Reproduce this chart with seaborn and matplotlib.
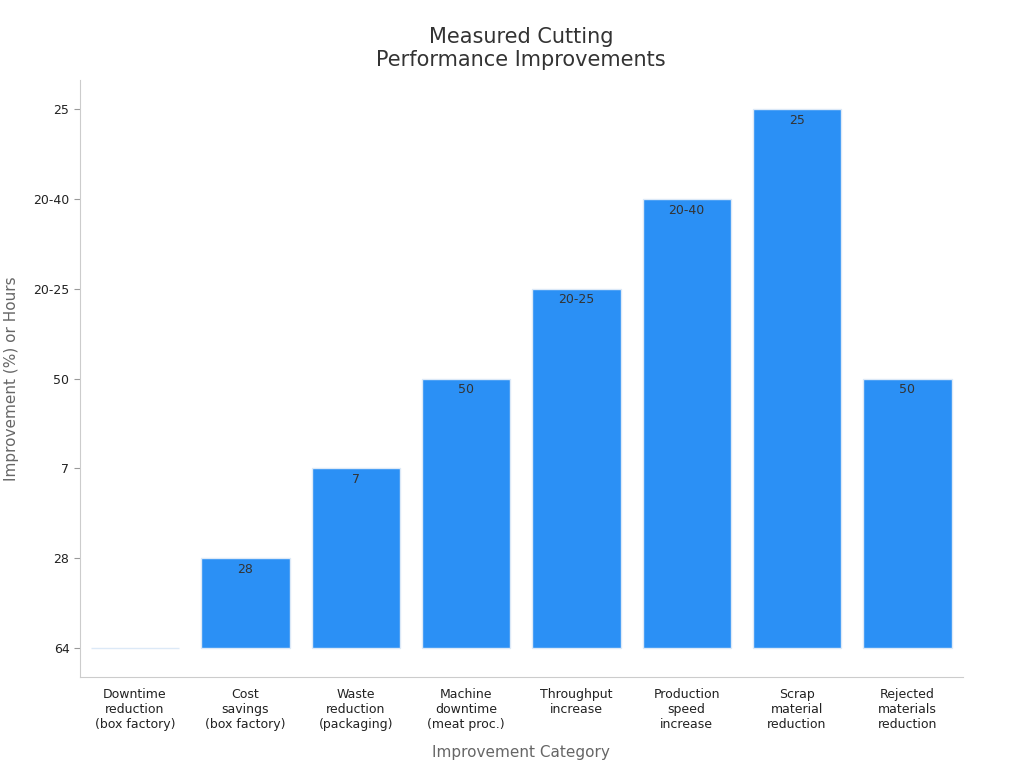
import seaborn as sns
import pandas as pd
from matplotlib import pyplot as plt

categories = ["Downtime\nreduction\n(box factory)", "Cost\nsavings\n(box factory)",
              "Waste\nreduction\n(packaging)", "Machine\ndowntime\n(meat proc.)",
              "Throughput\nincrease", "Production\nspeed\nincrease",
              "Scrap\nmaterial\nreduction", "Rejected\nmaterials\nreduction"]
values = ["64", "28", "7", "50", "20-25", "20-40", "25", "50"]

# y axis is categorical: levels in order of first appearance
levels = list(dict.fromkeys(values))
df = pd.DataFrame({"cat": categories, "val": values,
                   "pos": [levels.index(v) for v in values]})

fig, ax = plt.subplots(figsize=(10.24, 7.68), dpi=100)
fig.subplots_adjust(left=0.078, right=0.94, top=0.896, bottom=0.118)

sns.barplot(data=df, x="cat", y="pos", ax=ax, color="#2b90f5",
            saturation=1, width=0.8, edgecolor="#dce9f7", linewidth=1)

for i, row in df.iterrows():
    if row["pos"] > 0:
        ax.text(i, row["pos"] - 0.05, row["val"], ha="center", va="top",
                fontsize=9, color="#333333")

ax.set_yticks(range(len(levels)))
ax.set_yticklabels(levels)
ax.set_ylim(-0.33, 6.33)
ax.set_xlim(-0.5, 7.5)
ax.tick_params(axis="both", labelsize=9, colors="#222222")
ax.tick_params(axis="y", color="#999999", length=4)
ax.tick_params(axis="x", length=0, pad=8)
ax.set_xlabel("Improvement Category", fontsize=11, color="#666666", labelpad=10)
ax.set_ylabel("Improvement (%) or Hours", fontsize=11, color="#666666", labelpad=10)
ax.set_title("Measured Cutting\nPerformance Improvements", fontsize=15, color="#333333", pad=10)

sns.despine()
for s in ("left", "bottom"):
    ax.spines[s].set_color("#cccccc")

fig.savefig("out.png", dpi=100)
